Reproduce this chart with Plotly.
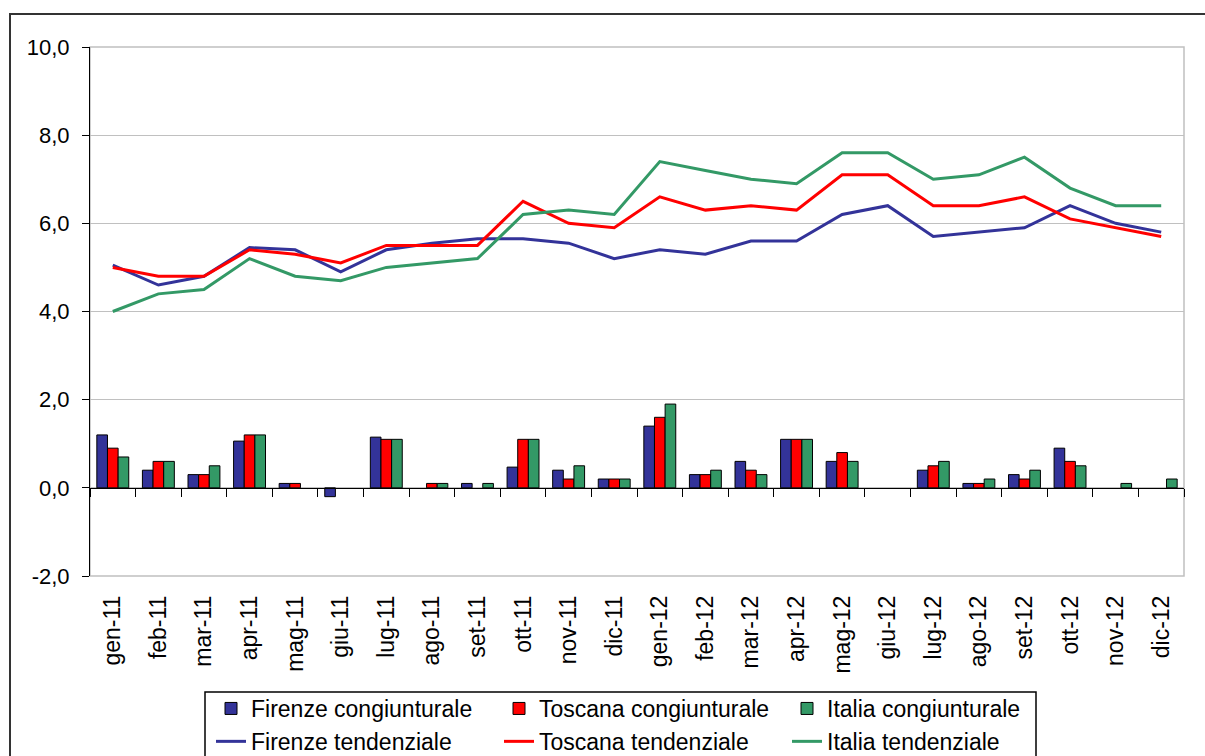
import plotly.graph_objects as go

# Mesi
months = ["gen-11", "feb-11", "mar-11", "apr-11", "mag-11", "giu-11",
          "lug-11", "ago-11", "set-11", "ott-11", "nov-11", "dic-11",
          "gen-12", "feb-12", "mar-12", "apr-12", "mag-12", "giu-12",
          "lug-12", "ago-12", "set-12", "ott-12", "nov-12", "dic-12"]

# Variazioni congiunturali (%), None = nessuna variazione
firenze_cong = [1.2, 0.4, 0.3, 1.06, 0.1, -0.2, 1.15, None, 0.1, 0.47, 0.4, 0.2,
                1.4, 0.3, 0.6, 1.1, 0.6, None, 0.4, 0.1, 0.3, 0.9, None, None]
toscana_cong = [0.9, 0.6, 0.3, 1.2, 0.1, None, 1.1, 0.1, None, 1.1, 0.2, 0.2,
                1.6, 0.3, 0.4, 1.1, 0.8, None, 0.5, 0.1, 0.2, 0.6, None, None]
italia_cong = [0.7, 0.6, 0.5, 1.2, None, None, 1.1, 0.1, 0.1, 1.1, 0.5, 0.2,
               1.9, 0.4, 0.3, 1.1, 0.6, None, 0.6, 0.2, 0.4, 0.5, 0.1, 0.2]

# Variazioni tendenziali (%)
firenze_tend = [5.05, 4.6, 4.8, 5.45, 5.4, 4.9, 5.4, 5.55, 5.65, 5.65, 5.55, 5.2,
                5.4, 5.3, 5.6, 5.6, 6.2, 6.4, 5.7, 5.8, 5.9, 6.4, 6.0, 5.8]
toscana_tend = [5.0, 4.8, 4.8, 5.4, 5.3, 5.1, 5.5, 5.5, 5.5, 6.5, 6.0, 5.9,
                6.6, 6.3, 6.4, 6.3, 7.1, 7.1, 6.4, 6.4, 6.6, 6.1, 5.9, 5.7]
italia_tend = [4.0, 4.4, 4.5, 5.2, 4.8, 4.7, 5.0, 5.1, 5.2, 6.2, 6.3, 6.2,
               7.4, 7.2, 7.0, 6.9, 7.6, 7.6, 7.0, 7.1, 7.5, 6.8, 6.4, 6.4]

# Tacche dell'asse y
y_ticks = [-2, 0, 2, 4, 6, 8, 10]
y_ticktext = [f"{v:.1f}".replace(".", ",") for v in y_ticks]

BLUE = "#333399"
RED = "#FF0000"
GREEN = "#339966"
GRID = "#C0C0C0"
FONT = "Liberation Sans, Arial, sans-serif"

fig = go.Figure()

bars = [("Firenze congiunturale", firenze_cong, BLUE, "legend"),
        ("Toscana congiunturale", toscana_cong, RED, "legend2"),
        ("Italia congiunturale", italia_cong, GREEN, "legend3")]
for name, vals, col, leg in bars:
    fig.add_trace(go.Bar(x=months, y=vals, name=name, legend=leg,
                         marker=dict(color=col, line=dict(color="black", width=1))))

lines = [("Firenze tendenziale", firenze_tend, BLUE, "legend"),
         ("Toscana tendenziale", toscana_tend, RED, "legend2"),
         ("Italia tendenziale", italia_tend, GREEN, "legend3")]
for name, vals, col, leg in lines:
    fig.add_trace(go.Scatter(x=months, y=vals, name=name, legend=leg,
                             mode="lines", line=dict(color=col, width=3)))

# helper trace so the category axis at y=0 gets its tick marks
fig.add_trace(go.Scatter(x=months, y=[None] * len(months), xaxis="x2",
                         showlegend=False, hoverinfo="skip"))

L, R, T, B = 90, 21, 47, 180
W, H = 1205, 756
pw, ph = W - L - R, H - T - B


def px_x(v):
    return (v - L) / pw


def px_y(v):
    return (H - B - v) / ph


leg_common = dict(orientation="v", yanchor="top", xanchor="left",
                  xref="container", yref="container",
                  bgcolor="rgba(0,0,0,0)", font=dict(size=23, family=FONT, color="black"),
                  tracegroupgap=0, itemwidth=30, traceorder="normal")

leg_top = 1 - 687 / H

fig.update_layout(
    width=W, height=H,
    margin=dict(l=L, r=R, t=T, b=B, autoexpand=False),
    paper_bgcolor="white", plot_bgcolor="white",
    font=dict(family=FONT, size=22, color="black"),
    barmode="group", bargap=0.30, bargroupgap=0,
    xaxis=dict(type="category", categoryarray=months, range=[-0.5, 23.5],
               showgrid=False, showline=False, ticks="", tickangle=-90,
               tickfont=dict(size=23), ticklabelstandoff=14, automargin=False),
    xaxis2=dict(type="category", categoryarray=months, range=[-0.5, 23.5],
                overlaying="x", anchor="free", position=1 / 6, side="bottom",
                showgrid=False, showline=True, linecolor="black", linewidth=1,
                ticks="outside", ticklen=8, tickcolor="black", tickson="boundaries",
                showticklabels=False),
    yaxis=dict(range=[-2, 10], tickmode="array", tickvals=y_ticks, ticktext=y_ticktext,
               showgrid=True, gridcolor=GRID, gridwidth=1, zeroline=False, showline=True,
               linecolor="black", linewidth=1, ticks="outside", ticklen=7,
               tickcolor="black", ticklabelstandoff=8, tickfont=dict(size=22),
               automargin=False),
    legend=dict(x=211 / W, y=leg_top, **leg_common),
    legend2=dict(x=499 / W, y=leg_top, **leg_common),
    legend3=dict(x=787 / W, y=leg_top, **leg_common),
    shapes=[
        # plot area border
        dict(type="rect", xref="paper", yref="paper", x0=0, x1=1, y0=0, y1=1,
             line=dict(color=GRID, width=1.5), layer="below"),
        # chart outer border
        dict(type="rect", xref="paper", yref="paper",
             x0=px_x(10), x1=px_x(1230), y0=px_y(780), y1=px_y(14),
             line=dict(color="#333333", width=2)),
        # legend box
        dict(type="rect", xref="paper", yref="paper",
             x0=px_x(205), x1=px_x(1036), y0=px_y(780), y1=px_y(692),
             line=dict(color="black", width=1.5)),
    ],
    showlegend=True,
)

fig.write_html("out.html")
